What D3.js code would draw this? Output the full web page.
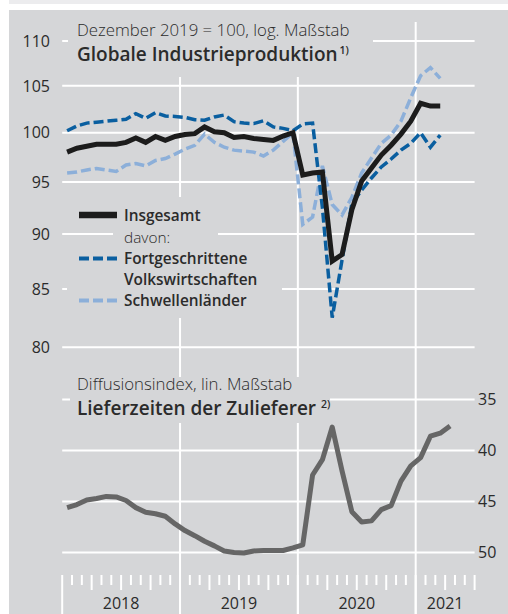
<!DOCTYPE html>
<html>
<head>
<meta charset="utf-8">
<script src="https://cdn.jsdelivr.net/npm/d3@7"></script>
<style>
  body { margin: 0; background: #ffffff; }
  text { font-family: "Open Sans", "Noto Sans", sans-serif; fill: #2b2b2b; }
</style>
</head>
<body>
<div id="chart"></div>
<script>
//-------------------SET-UP, DATA & VARIABLES----------------------------------
var width = 508;
var height = 614;

// Months, Jan 2018 .. Apr 2021 (monthly points)
var months = ["2018-01","2018-02","2018-03","2018-04","2018-05","2018-06","2018-07","2018-08","2018-09","2018-10","2018-11","2018-12",
              "2019-01","2019-02","2019-03","2019-04","2019-05","2019-06","2019-07","2019-08","2019-09","2019-10","2019-11","2019-12",
              "2020-01","2020-02","2020-03","2020-04","2020-05","2020-06","2020-07","2020-08","2020-09","2020-10","2020-11","2020-12",
              "2021-01","2021-02","2021-03","2021-04"];

// Globale Industrieproduktion, Dezember 2019 = 100
var insgesamt = [98.0, 98.4, 98.6, 98.8, 98.8, 98.8, 99.0, 99.45, 99.0, 99.6, 99.2, 99.6,
                 99.8, 99.9, 100.6, 100.1, 100.0, 99.5, 99.6, 99.4, 99.3, 99.2, 99.65, 100.0,
                 95.7, 95.9, 96.0, 87.5, 88.1, 92.3, 95.1, 96.4, 97.7, 98.7, 99.85, 101.2,
                 103.1, 102.8, 102.8];
var fortgeschrittene = [100.2, 100.7, 101.0, 101.1, 101.2, 101.3, 101.4, 102.0, 101.5, 102.1, 101.75, 101.7,
                        101.6, 101.35, 101.3, 101.65, 101.85, 101.15, 101.0, 100.95, 101.25, 100.6, 100.45, 100.2,
                        100.9, 101.0, 92.5, 82.5, 87.6, 92.9, 94.2, 95.4, 96.5, 97.3, 98.2, 98.9,
                        100.0, 98.5, 99.75];
var schwellenlaender = [95.9, 96.0, 96.2, 96.35, 96.2, 96.05, 96.7, 96.85, 96.6, 97.15, 97.35, 97.8,
                        98.3, 98.7, 99.85, 99.0, 98.5, 98.2, 98.1, 98.0, 97.6, 98.2, 99.1, 100.0,
                        90.9, 91.6, 96.6, 92.8, 91.8, 93.5, 95.9, 97.4, 98.9, 99.75, 101.2, 103.7,
                        106.1, 107.0, 105.8];

// Lieferzeiten der Zulieferer, Diffusionsindex
var lieferzeiten = [45.6, 45.3, 44.85, 44.7, 44.5, 44.55, 44.9, 45.6, 46.05, 46.2, 46.45, 47.2,
                    47.85, 48.35, 48.9, 49.35, 49.85, 50.0, 50.05, 49.85, 49.8, 49.8, 49.8, 49.55,
                    49.25, 42.4, 40.9, 37.7, 42.0, 46.0, 47.0, 46.9, 45.8, 45.4, 43.0, 41.5,
                    40.7, 38.6, 38.3, 37.6];

// Tick labels
var topTicks = [80, 85, 90, 95, 100, 105, 110];
var bottomTicks = [35, 40, 45, 50];
var years = ["2018", "2019", "2020", "2021"];

var panelColor = "#d5d6d8";

//-------------------SCALES---------------------------------------------------
// x runs over month boundaries: 0 = 1 Jan 2018, 42 = 1 Jul 2021
var xScale = d3.scaleLinear().domain([0, 42]).range([62.2, 474.6]);
var yTop = d3.scaleLog().domain([80, 110]).range([347.3, 41]);
var yBottom = d3.scaleLinear().domain([35, 50]).range([399.5, 552.5]);

function xMid(i) { return xScale(i + 0.5); }

//-------------------SVG & BACKGROUND-----------------------------------------
var svg = d3.select("#chart")
    .append("svg")
    .attr("width", width)
    .attr("height", height);

svg.append("rect").attr("x", 9).attr("y", 0).attr("width", width - 9).attr("height", 4).attr("fill", "#ececee");
svg.append("rect").attr("x", 9).attr("y", 10).attr("width", width - 9).attr("height", height - 10).attr("fill", panelColor);

//-------------------GRID LINES-----------------------------------------------
var grid = svg.append("g").attr("stroke", "#ffffff").attr("stroke-width", 2);

grid.selectAll(".gtop")
    .data(topTicks)
    .enter().append("line")
    .attr("x1", xScale(0)).attr("x2", xScale(42))
    .attr("y1", function(d) { return yTop(d); })
    .attr("y2", function(d) { return yTop(d); });

grid.selectAll(".gbot")
    .data(bottomTicks)
    .enter().append("line")
    .attr("x1", xScale(0)).attr("x2", xScale(42))
    .attr("y1", function(d) { return yBottom(d); })
    .attr("y2", function(d) { return yBottom(d); });

// year boundaries
grid.selectAll(".gyear")
    .data([12, 24, 36])
    .enter().append("line")
    .attr("x1", function(d) { return xScale(d); })
    .attr("x2", function(d) { return xScale(d); })
    .attr("y1", 22).attr("y2", height);

// month ticks on the time axis
var monthBounds = d3.range(0, 43);
grid.selectAll(".tick")
    .data(monthBounds)
    .enter().append("line")
    .attr("x1", function(d) { return xScale(d); })
    .attr("x2", function(d) { return xScale(d); })
    .attr("y1", 575)
    .attr("y2", function(d) { return d % 12 == 0 ? height : (d % 3 == 0 ? 590 : 585); });

//-------------------MASKS BEHIND TEXT----------------------------------------
var masks = [
    [68, 22, 305, 55],     // top title
    [70, 377, 260, 46],    // bottom title
    [67, 197, 151, 29],    // Insgesamt
    [113, 226, 105, 22],   // davon
    [67, 248, 203, 21],    // Fortgeschrittene
    [113, 269, 169, 17],   // Volkswirtschaften
    [67, 286, 215, 32]     // Schwellenlaender
];
svg.selectAll(".mask")
    .data(masks)
    .enter().append("rect")
    .attr("x", function(d) { return d[0]; })
    .attr("y", function(d) { return d[1]; })
    .attr("width", function(d) { return d[2]; })
    .attr("height", function(d) { return d[3]; })
    .attr("fill", panelColor);

//-------------------LINES----------------------------------------------------
var lineTop = d3.line()
    .x(function(d, i) { return xMid(i); })
    .y(function(d) { return yTop(d); });

var lineBottom = d3.line()
    .x(function(d, i) { return xMid(i); })
    .y(function(d) { return yBottom(d); });

svg.append("path").datum(schwellenlaender)
    .attr("d", lineTop).attr("fill", "none")
    .attr("stroke", "#8cafd9").attr("stroke-width", 3.5)
    .attr("stroke-dasharray", "10,4");

svg.append("path").datum(fortgeschrittene)
    .attr("d", lineTop).attr("fill", "none")
    .attr("stroke", "#0a5fa0").attr("stroke-width", 3.5)
    .attr("stroke-dasharray", "10,4");

svg.append("path").datum(insgesamt)
    .attr("d", lineTop).attr("fill", "none")
    .attr("stroke", "#1c1c1c").attr("stroke-width", 5)
    .attr("stroke-linejoin", "miter");

svg.append("path").datum(lieferzeiten)
    .attr("d", lineBottom).attr("fill", "none")
    .attr("stroke", "#666666").attr("stroke-width", 5)
    .attr("stroke-linejoin", "round");

//-------------------AXIS LABELS----------------------------------------------
svg.selectAll(".ltop")
    .data(topTicks)
    .enter().append("text")
    .attr("x", 50)
    .attr("y", function(d) { return yTop(d); })
    .attr("dy", "0.36em")
    .attr("text-anchor", "end")
    .style("font-size", "16px")
    .text(function(d) { return d; });

svg.selectAll(".lbot")
    .data(bottomTicks)
    .enter().append("text")
    .attr("x", 478)
    .attr("y", function(d) { return yBottom(d); })
    .attr("dy", "0.36em")
    .style("font-size", "16px")
    .text(function(d) { return d; });

svg.selectAll(".year")
    .data(years)
    .enter().append("text")
    .attr("x", function(d, i) { return i < 3 ? xScale(i * 12 + 6) : xScale(39); })
    .attr("y", 609)
    .attr("text-anchor", "middle")
    .style("font-size", "16px")
    .text(function(d) { return d; });

//-------------------TITLES---------------------------------------------------
svg.append("text").attr("x", 77).attr("y", 36)
    .style("font-size", "16.8px").style("font-weight", 300)
    .text("Dezember 2019 = 100, log. Maßstab");

var t1 = svg.append("text").attr("x", 77).attr("y", 61)
    .style("font-size", "19px").style("font-weight", 600);
t1.append("tspan").text("Globale Industrieproduktion");
t1.append("tspan").attr("dy", -7).attr("dx", 2).style("font-size", "10.5px").text("1)");

svg.append("text").attr("x", 77).attr("y", 390)
    .style("font-size", "16.8px").style("font-weight", 300)
    .text("Diffusionsindex, lin. Maßstab");

var t2 = svg.append("text").attr("x", 77).attr("y", 415)
    .style("font-size", "19px").style("font-weight", 600);
t2.append("tspan").text("Lieferzeiten der Zulieferer");
t2.append("tspan").attr("dy", -7).attr("dx", 5).style("font-size", "10.5px").text("2)");

//-------------------LEGEND---------------------------------------------------
var legendRows = [
    {label: "Insgesamt", y: 215, color: "#1c1c1c", width: 6.5, dash: null, weight: 600},
    {label: "davon:", y: 237.5, color: null, weight: 300},
    {label: "Fortgeschrittene", y: 258.5, color: "#0a5fa0", width: 4, dash: "10,4", weight: 600},
    {label: "Volkswirtschaften", y: 279.5, color: null, weight: 600},
    {label: "Schwellenländer", y: 300.5, color: "#8cafd9", width: 4, dash: "10,4", weight: 600}
];

var legend = svg.append("g");
legend.selectAll("line")
    .data(legendRows.filter(function(d) { return d.color; }))
    .enter().append("line")
    .attr("x1", 79).attr("x2", 117)
    .attr("y1", function(d) { return d.y; })
    .attr("y2", function(d) { return d.y; })
    .attr("stroke", function(d) { return d.color; })
    .attr("stroke-width", function(d) { return d.width; })
    .attr("stroke-dasharray", function(d) { return d.dash; });

legend.selectAll("text")
    .data(legendRows)
    .enter().append("text")
    .attr("x", 124)
    .attr("y", function(d) { return d.y; })
    .attr("dy", "0.36em")
    .style("font-size", "15.4px")
    .style("font-weight", function(d) { return d.weight; })
    .text(function(d) { return d.label; });
</script>
</body>
</html>
